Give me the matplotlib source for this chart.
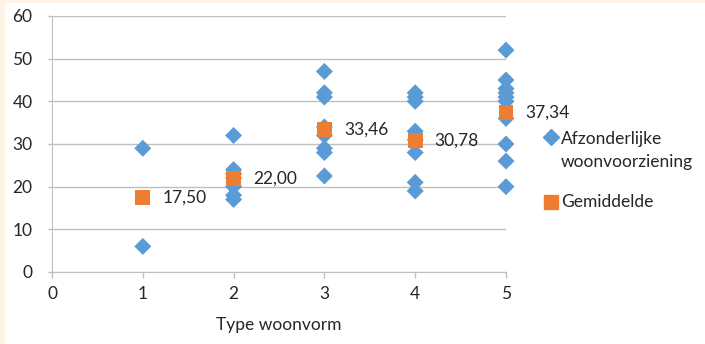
import matplotlib.pyplot as plt
from matplotlib.patches import Rectangle
from matplotlib.lines import Line2D
import numpy as np

plt.rcParams['font.family'] = ['Lato', 'DejaVu Sans']

# individual observations per housing type
type_1 = [29, 6]
type_2 = [32, 24, 23, 22, 20, 18, 17]
type_3 = [47, 42, 41, 34, 32, 29, 28, 22.5]
type_4 = [42, 41, 40, 33, 31, 28, 21, 19]
type_5 = [52, 45, 43, 42, 41, 40, 36, 30, 26, 20]
groups = [type_1, type_2, type_3, type_4, type_5]

types = [1, 2, 3, 4, 5]
means = [17.50, 22.00, 33.46, 30.78, 37.34]
mean_labels = ['17,50', '22,00', '33,46', '30,78', '37,34']

series_names = ['Afzonderlijke\nwoonvoorziening', 'Gemiddelde']

blue = '#5B9BD5'
orange = '#ED7D31'
grid = '#BFBFBF'
text_col = '#262626'
peach = '#FEF3E4'

fig = plt.figure(figsize=(7.05, 3.44), dpi=100)
fig.patches.append(Rectangle((0, 0), 5 / 705, 1, transform=fig.transFigure,
                             facecolor=peach, edgecolor='none', zorder=0))
fig.patches.append(Rectangle((0, 1 - 3 / 344), 1, 3 / 344, transform=fig.transFigure,
                             facecolor=peach, edgecolor='none', zorder=0))

ax = fig.add_axes([52 / 705, 72 / 344, 454 / 705, 256 / 344])

xs = np.concatenate([[t] * len(g) for t, g in zip(types, groups)])
ys = np.concatenate(groups)
ax.scatter(xs, ys, marker='D', s=75, color=blue, edgecolors='none', zorder=3,
           clip_on=False)
ax.scatter(types, means, marker='s', s=115, color=orange, edgecolors='none', zorder=4,
           clip_on=False)

for t, m, lab in zip(types, means, mean_labels):
    ax.annotate(lab, (t, m), xytext=(14, 0), textcoords='offset points',
                va='center', ha='left', fontsize=12.5, color=text_col)

ax.set_xlim(0, 5)
ax.set_ylim(0, 60)
ax.set_xticks(range(0, 6))
ax.set_yticks(range(0, 61, 10))
ax.grid(axis='y', color=grid, linewidth=1)
ax.set_axisbelow(True)
for s in ['top', 'right']:
    ax.spines[s].set_visible(False)
ax.spines['left'].set_color(grid)
ax.spines['bottom'].set_color(grid)
ax.tick_params(axis='both', colors=grid, labelcolor=text_col, labelsize=12.5,
               length=4, width=1)
ax.tick_params(axis='y', length=3, pad=11)
ax.tick_params(axis='x', pad=6)
ax.set_xlabel('Type woonvorm', fontsize=12.5, color=text_col, labelpad=11)

# legend on the right, drawn by hand so the diamond sits on the first line
def fx(px):
    return px / 705

def fy(py):
    return 1 - py / 344

fig.add_artist(Line2D([fx(551)], [fy(137)], marker='D', markersize=8.5, color=blue,
                      linestyle='none', transform=fig.transFigure))
fig.text(fx(561), fy(167), series_names[0], va='baseline', ha='left', fontsize=12.5,
         color=text_col, linespacing=1.55)
fig.add_artist(Line2D([fx(551)], [fy(202)], marker='s', markersize=10, color=orange,
                      linestyle='none', transform=fig.transFigure))
fig.text(fx(561), fy(202), series_names[1], va='center', ha='left', fontsize=12.5,
         color=text_col)

fig.savefig('out.png', dpi=100, facecolor='white')
